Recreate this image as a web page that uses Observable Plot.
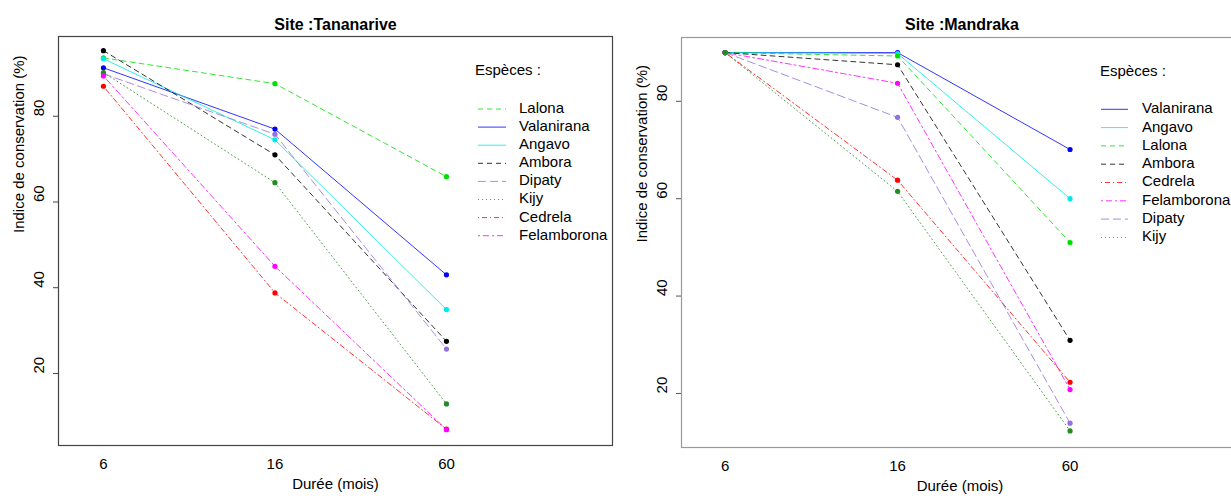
<!DOCTYPE html>
<html><head><meta charset="utf-8">
<script src="https://cdn.jsdelivr.net/npm/d3@7"></script>
<script src="https://cdn.jsdelivr.net/npm/@observablehq/plot@0.6"></script>
<style>
body{margin:0;background:#fff;overflow:hidden}
#wrap{position:relative;width:1231px;height:498px;overflow:hidden;font-family:"Liberation Sans",Arial,sans-serif}
#wrap > svg{position:absolute;top:0}
</style></head><body><div id="wrap"></div>
<script>
// ---- data ----
const durations = ["6", "16", "60"];
const yTicks = [20, 40, 60, 80];

const speciesTana = ["Lalona", "Valanirana", "Angavo", "Ambora", "Dipaty", "Kijy", "Cedrela", "Felamborona"];
const tana6  = [93.6, 91.3, 93.4, 95.3, 89.9, 90.2, 87.0, 89.4];
const tana16 = [87.6, 77.0, 74.5, 71.0, 75.8, 64.5, 38.8, 45.0];
const tana60 = [65.9, 43.0, 34.9, 27.5, 25.7, 12.9, 7.0, 6.9];

const speciesMand = ["Valanirana", "Angavo", "Lalona", "Ambora", "Cedrela", "Felamborona", "Dipaty", "Kijy"];
const mand6  = [90.0, 90.0, 90.0, 90.0, 90.0, 90.0, 90.0, 90.0];
const mand16 = [90.0, 89.8, 89.3, 87.5, 63.8, 83.7, 76.7, 61.5];
const mand60 = [70.1, 60.0, 51.0, 30.9, 22.3, 20.8, 13.9, 12.3];

// ---- styles ----
const colorOf = {
  Lalona: "#00e000", Valanirana: "#0000ff", Angavo: "#00e8e8", Ambora: "#000000",
  Dipaty: "#9370db", Kijy: "#228b22", Cedrela: "#ff0000", Felamborona: "#ff00ff"
};
const dashOf = {
  Lalona: "5,4", Valanirana: null, Angavo: null, Ambora: "5,4",
  Dipaty: "8,4", Kijy: "1,3", Cedrela: "1,3,5,3", Felamborona: "2,3,6,3"
};
const FONT = '"Liberation Sans", Arial, sans-serif';

function buildRows(species, cols) {
  return species.flatMap((s, i) => cols.map((col, j) => ({species: s, x: j + 1, value: col[i]})));
}

function panel(o) {
  const rows = buildRows(o.species, o.cols);
  const marks = [
    Plot.axisY({ticks: yTicks, tickSize: 5, tickFormat: () => "", label: null, stroke: o.tickColor}),
    Plot.axisX({ticks: [1, 2, 3], tickSize: 0, tickPadding: 13, tickFormat: i => durations[i - 1], label: null, fontSize: 15, fill: "#000"}),
    Plot.text(yTicks, {y: d => d, frameAnchor: "left", dx: -19, rotate: -90, text: d => String(d), fontSize: 15, fill: "#000"}),
    Plot.text(["Indice de conservation (%)"], {frameAnchor: "left", dx: o.yTitleDx, dy: o.yTitleDy, rotate: -90, text: d => d, fontSize: 15, fill: "#000"}),
    Plot.text(["Durée (mois)"], {frameAnchor: "bottom", dx: o.xTitleDx, dy: 43, text: d => d, fontSize: 15, fill: "#000"}),
    Plot.text([o.title], {frameAnchor: "top", dy: o.titleDy, text: d => d, fontSize: 16, fontWeight: "bold", fill: "#000"})
  ];
  for (const s of o.species) {
    marks.push(Plot.line(rows.filter(r => r.species === s), {
      x: "x", y: "value", stroke: colorOf[s], strokeWidth: 1, strokeOpacity: 0.8,
      strokeDasharray: dashOf[s]
    }));
  }
  for (const s of o.species) {
    marks.push(Plot.dot(rows.filter(r => r.species === s), {x: "x", y: "value", fill: colorOf[s], r: 2.6, stroke: "none"}));
  }
  marks.push(Plot.frame({stroke: o.frameColor, strokeWidth: 1.2}));

  const svg = Plot.plot({
    width: o.width, height: 498,
    marginLeft: o.ml, marginRight: o.mr, marginTop: o.mt, marginBottom: o.mb,
    x: {domain: o.xDomain, axis: null},
    y: {domain: o.yDomain, axis: null},
    style: {fontFamily: FONT, background: "transparent", overflow: "visible"},
    marks
  });
  svg.style.left = o.left + "px";

  // legend
  const g = d3.select(svg).append("g")
    .attr("font-family", FONT).attr("font-size", 15).attr("text-anchor", "start").attr("fill", "#000");
  g.append("text").attr("x", o.lg.x).attr("y", o.lg.titleY).attr("dominant-baseline", "middle").text("Espèces :");
  o.species.forEach((s, i) => {
    const y = o.lg.y0 + i * o.lg.dy;
    g.append("line").attr("x1", o.lg.lx1).attr("x2", o.lg.lx2).attr("y1", y).attr("y2", y)
      .attr("stroke", colorOf[s]).attr("stroke-width", 1).attr("stroke-opacity", 0.8)
      .attr("stroke-dasharray", dashOf[s]);
    g.append("text").attr("x", o.lg.tx).attr("y", y).attr("dominant-baseline", "middle").text(s);
  });
  return svg;
}

const wrap = document.getElementById("wrap");
wrap.append(panel({
  title: "Site :Tananarive", species: speciesTana, cols: [tana6, tana16, tana60],
  width: 620, left: 0, ml: 58, mr: 8, mt: 36, mb: 53,
  xDomain: [0.738, 3.968], yDomain: [3.2, 98.6],
  frameColor: "#444", tickColor: "#444", titleDy: -18, yTitleDx: -39, yTitleDy: -8, xTitleDx: 0,
  lg: {x: 475, titleY: 71, lx1: 478, lx2: 506, tx: 519, y0: 109, dy: 18.1}
}));
wrap.append(panel({
  title: "Site :Mandraka", species: speciesMand, cols: [mand6, mand16, mand60],
  width: 622, left: 620, ml: 61, mr: 0, mt: 37, mb: 51,
  xDomain: [0.747, 4.0], yDomain: [8.9, 93.1],
  frameColor: "#999", tickColor: "#555", titleDy: -19, yTitleDx: -39, yTitleDy: 0, xTitleDx: -2,
  lg: {x: 480, titleY: 72, lx1: 481, lx2: 508, tx: 522, y0: 109.3, dy: 18.3}
}));
</script></body></html>
